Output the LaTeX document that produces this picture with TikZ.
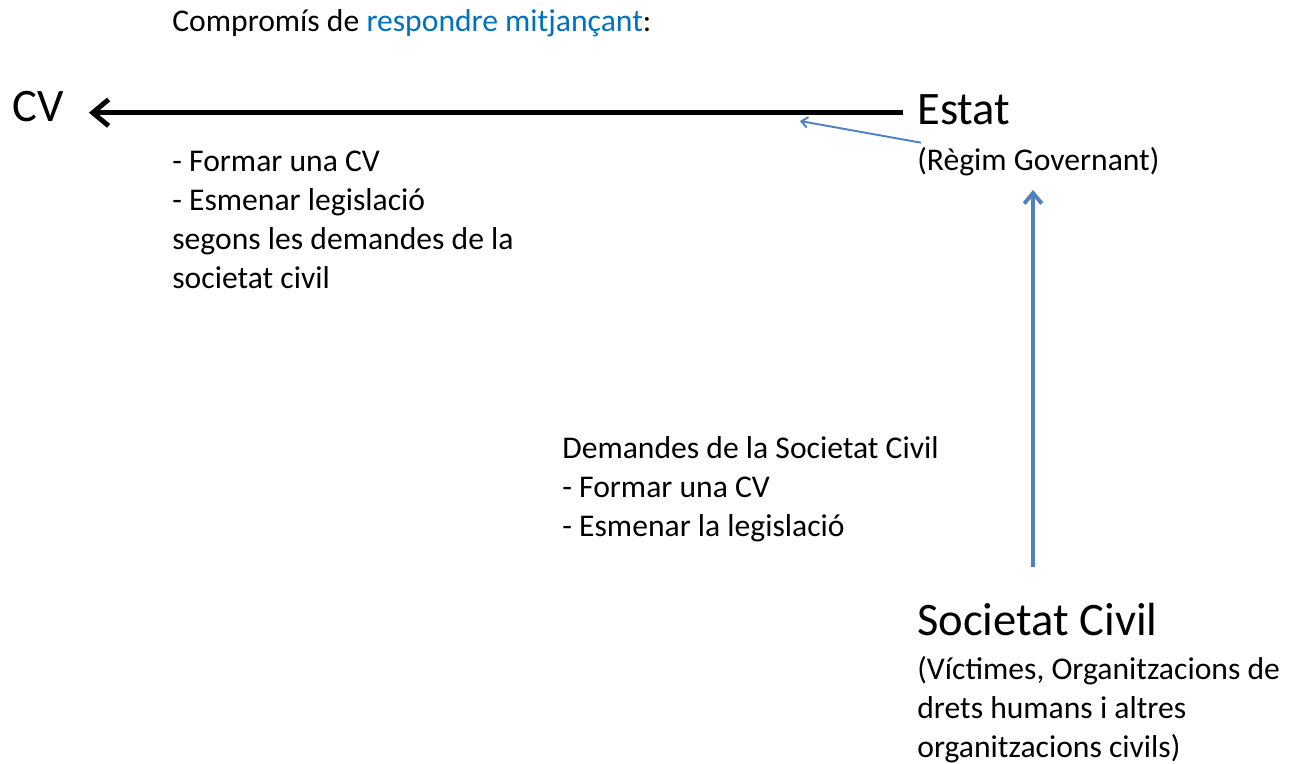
\documentclass[tikz,border=0pt]{standalone}
\usepackage{fontspec}
\setmainfont{Carlito}
\usepackage{tikz}
\usetikzlibrary{arrows.meta,positioning}
\definecolor{arrowblue}{HTML}{4F81BD}
\definecolor{wordblue}{HTML}{0070C0}
\tikzset{
  bigtext/.style={font=\fontsize{26.5}{32}\selectfont,inner sep=0pt,anchor=base west},
  smalltext/.style={font=\fontsize{18}{22.1}\selectfont,inner sep=0pt,anchor=base west,align=left},
  cvarrow/.style={line width=2.8pt,-{Straight Barb[length=9pt,width=15pt]}},
  civarrow/.style={arrowblue,line width=2.2pt,-{Straight Barb[length=6pt,width=10pt]}},
  noteline/.style={arrowblue,line width=1.1pt,-{Straight Barb[length=3.5pt,width=6pt]}}
}
\begin{document}
\begin{tikzpicture}[x=0.02cm,y=-0.02cm]
    \useasboundingbox (0,0) rectangle (1293,763);
    \node [smalltext] (title) at (172,32) {Compromís de \textcolor{wordblue}{respondre mitjançant}:};

    \node [bigtext] (cv) at (12,122) {CV};
    \node [bigtext] (estat) at (917,125) {Estat};
    \node [smalltext] (regim) at (917,171) {(Règim Governant)};
    \node [smalltext] (cvlist) at (172,288) {- Formar una CV\\- Esmenar legislació\\segons les demandes de la\\societat civil};

    \node [smalltext] (demandes) at (562,536) {Demandes de la Societat Civil\\- Formar una CV\\- Esmenar la legislació};
    \node [bigtext] (soc) at (917,635) {Societat Civil};
    \node [smalltext] (socnote) at (917,757) {(Víctimes, Organitzacions de\\drets humans i altres\\organitzacions civils)};

    \coordinate (civaxis) at (1033,0);
    \coordinate (cvnote) at (800,121);
    \draw [cvarrow,shorten <=0.28cm,shorten >=0.5cm] ([yshift=0.246cm]estat.base west) -- ([yshift=0.246cm]estat.base west -| cv.east);
    \draw [noteline] ([shift={(4,17)}]estat.south west) -- (cvnote);
    \draw [civarrow,shorten <=1.36cm,shorten >=0.38cm] (soc.base -| civaxis) -- (regim.base -| civaxis);
\end{tikzpicture}
\end{document}
